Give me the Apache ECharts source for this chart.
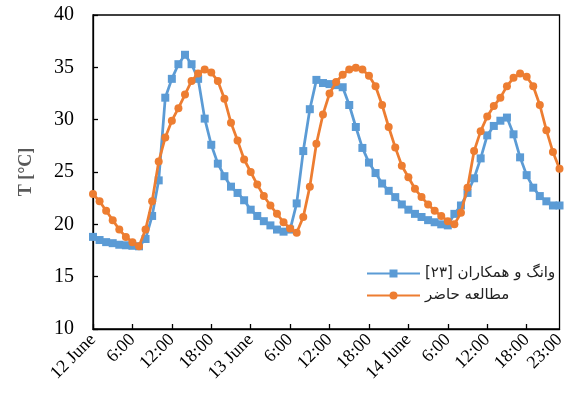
<!DOCTYPE html>
<html>
<head>
<meta charset="utf-8">
<script src="https://cdn.jsdelivr.net/npm/echarts@6/dist/echarts.min.js"></script>
<style>
html,body{margin:0;padding:0;background:#fff;}
#c{width:568px;height:396px;}
</style>
</head>
<body>
<div id="c"></div>
<script>
// Hour index 0..71 (12 June 0:00 to 14 June 23:00)
const hours = Array.from({length: 72}, (_, i) => i);
const tickLabels = {0: '12 June', 6: '6:00', 12: '12:00', 18: '18:00', 24: '13 June', 30: '6:00', 36: '12:00', 42: '18:00', 48: '14 June', 54: '6:00', 60: '12:00', 66: '18:00', 71: '23:00'};

const seriesNames = ['وانگ و همکاران [۲۳]', 'مطالعه حاضر'];

const wangValues = [
  18.8, 18.5, 18.3, 18.2, 18.05, 18.0, 17.95, 17.9, 18.6, 20.8, 24.2, 32.1,
  33.9, 35.3, 36.2, 35.3, 33.9, 30.1, 27.6, 25.8, 24.6, 23.6, 23.0, 22.3,
  21.4, 20.8, 20.3, 19.9, 19.5, 19.3, 19.5, 22.0, 27.0, 31.0, 33.8, 33.5,
  33.4, 33.3, 33.1, 31.4, 29.3, 27.3, 25.9, 24.9, 23.9, 23.2, 22.6, 21.9,
  21.4, 21.0, 20.7, 20.4, 20.2, 20.0, 19.9, 21.0, 21.8, 23.0, 24.4, 26.3,
  28.5, 29.4, 29.9, 30.2, 28.6, 26.4, 24.7, 23.5, 22.7, 22.2, 21.8, 21.8
];

const presentValues = [
  22.9, 22.2, 21.3, 20.4, 19.5, 18.8, 18.3, 17.9, 19.5, 22.2, 26.0, 28.3,
  29.9, 31.1, 32.4, 33.7, 34.4, 34.8, 34.5, 33.7, 32.0, 29.7, 28.0, 26.2,
  25.0, 23.8, 22.7, 21.8, 21.0, 20.2, 19.6, 19.2, 20.7, 23.6, 27.7, 30.5,
  32.5, 33.6, 34.3, 34.8, 34.95, 34.8, 34.2, 33.2, 31.4, 29.3, 27.35, 25.6,
  24.5, 23.4, 22.6, 21.9, 21.3, 20.8, 20.3, 20.0, 21.1, 23.5, 27.0, 28.9,
  30.3, 31.3, 32.1, 33.2, 34.0, 34.4, 34.1, 33.2, 31.4, 29.0, 26.9, 25.3
];

const yMin = 10, yMax = 40, yStep = 5;
const yTitle = 'T [°C]';

const chart = echarts.init(document.getElementById('c'), null, {renderer: 'canvas'});
chart.setOption({
  animation: false,
  backgroundColor: '#fff',
  grid: {
    left: 93, right: 1, top: 15, bottom: 67,
    show: true, borderColor: '#000', borderWidth: 1.3, backgroundColor: 'transparent'
  },
  legend: {
    orient: 'vertical',
    left: 361, top: 261,
    itemWidth: 53, itemHeight: 10, itemGap: 7,
    textStyle: {fontFamily: 'DejaVu Sans', fontSize: 15, color: '#222'},
    data: seriesNames
  },
  xAxis: {
    type: 'category',
    data: hours,
    boundaryGap: false,
    axisLine: {lineStyle: {color: '#000', width: 1.3}},
    axisTick: {
      inside: true, length: 5,
      interval: (i) => i % 6 === 0,
      lineStyle: {color: '#000', width: 1.3}
    },
    axisLabel: {
      interval: (i) => tickLabels[i] !== undefined,
      formatter: (v, i) => tickLabels[i] || '',
      rotate: 45,
      margin: 8,
      fontFamily: 'Liberation Serif',
      fontSize: 18,
      color: '#000'
    },
    splitLine: {show: false}
  },
  yAxis: {
    type: 'value',
    min: yMin, max: yMax, interval: yStep,
    name: yTitle,
    nameLocation: 'middle',
    nameGap: 58,
    nameRotate: 90,
    nameTextStyle: {fontFamily: 'Liberation Serif', fontSize: 18, fontWeight: 'bold', color: '#595959'},
    axisLine: {show: true, lineStyle: {color: '#000', width: 1.3}},
    axisTick: {show: true, inside: true, length: 5, lineStyle: {color: '#000', width: 1.3}},
    axisLabel: {fontFamily: 'Liberation Serif', fontSize: 20, color: '#000', margin: 19},
    splitLine: {show: false}
  },
  series: [
    {
      name: seriesNames[0],
      type: 'line',
      data: wangValues,
      symbol: 'rect',
      symbolSize: 8,
      showSymbol: true,
      showAllSymbol: true,
      color: '#5B9BD5',
      lineStyle: {width: 2.75, color: '#5B9BD5'},
      itemStyle: {color: '#5B9BD5'},
      z: 2
    },
    {
      name: seriesNames[1],
      type: 'line',
      data: presentValues,
      symbol: 'circle',
      symbolSize: 8,
      showSymbol: true,
      showAllSymbol: true,
      color: '#ED7D31',
      lineStyle: {width: 2.75, color: '#ED7D31'},
      itemStyle: {color: '#ED7D31'},
      z: 3
    }
  ]
});
</script>
</body>
</html>
